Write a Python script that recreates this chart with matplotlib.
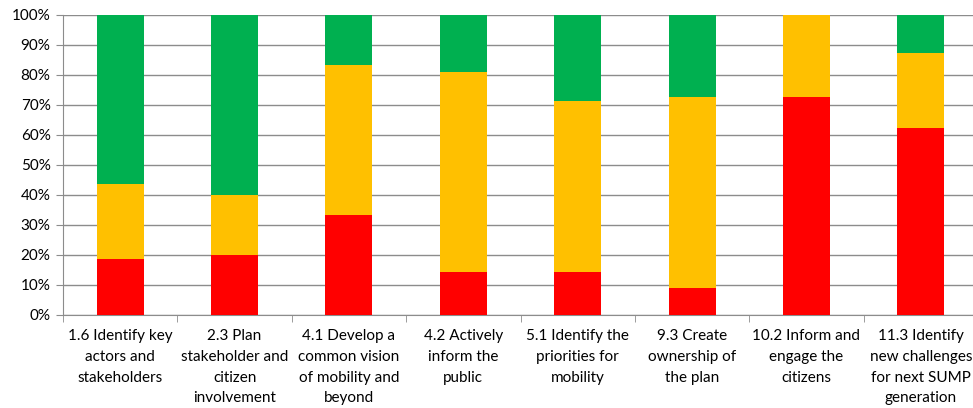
import matplotlib.pyplot as plt
from matplotlib.ticker import FixedLocator, PercentFormatter

categories = [
    "1.6 Identify key\nactors and\nstakeholders",
    "2.3 Plan\nstakeholder and\ncitizen\ninvolvement",
    "4.1 Develop a\ncommon vision\nof mobility and\nbeyond",
    "4.2 Actively\ninform the\npublic",
    "5.1 Identify the\npriorities for\nmobility",
    "9.3 Create\nownership of\nthe plan",
    "10.2 Inform and\nengage the\ncitizens",
    "11.3 Identify\nnew challenges\nfor next SUMP\ngeneration",
]
red = [18.75, 20.0, 33.33, 14.29, 14.29, 9.09, 72.73, 62.5]
yellow = [25.0, 20.0, 50.0, 66.67, 57.14, 63.64, 27.27, 25.0]
green = [56.25, 60.0, 16.67, 19.05, 28.57, 27.27, 0.0, 12.5]

plt.rcParams['font.family'] = ['Lato', 'DejaVu Sans']

fig = plt.figure(figsize=(9.73, 4.08), dpi=100)
ax = fig.add_axes([63 / 973, 1 - 315 / 408, 915 / 973, 300 / 408])

x = list(range(len(categories)))
w = 0.41
ax.bar(x, red, w, color='#FF0000', zorder=3)
ax.bar(x, yellow, w, bottom=red, color='#FFC000', zorder=3)
bottom2 = [r + y for r, y in zip(red, yellow)]
ax.bar(x, green, w, bottom=bottom2, color='#00B050', zorder=3)

ax.set_xlim(-0.5, len(categories) - 0.5)
ax.set_ylim(0, 100)
ax.set_yticks(range(0, 101, 10))
ax.yaxis.set_major_formatter(PercentFormatter(decimals=0))
ax.grid(axis='y', color='#8c8c8c', linewidth=1, zorder=0)

ax.set_xticks(x)
ax.set_xticklabels(categories, fontsize=11, linespacing=1.62)
ax.xaxis.set_minor_locator(FixedLocator([i - 0.5 for i in range(len(categories))]))
ax.tick_params(axis='x', which='major', length=0, pad=10)
ax.tick_params(axis='x', which='minor', length=5, color='#8c8c8c')
ax.tick_params(axis='y', length=5, color='#8c8c8c', labelsize=11, pad=4)

for s in ['top', 'right']:
    ax.spines[s].set_visible(False)
for s in ['left', 'bottom']:
    ax.spines[s].set_color('#8c8c8c')

fig.savefig('out.png', dpi=100)
